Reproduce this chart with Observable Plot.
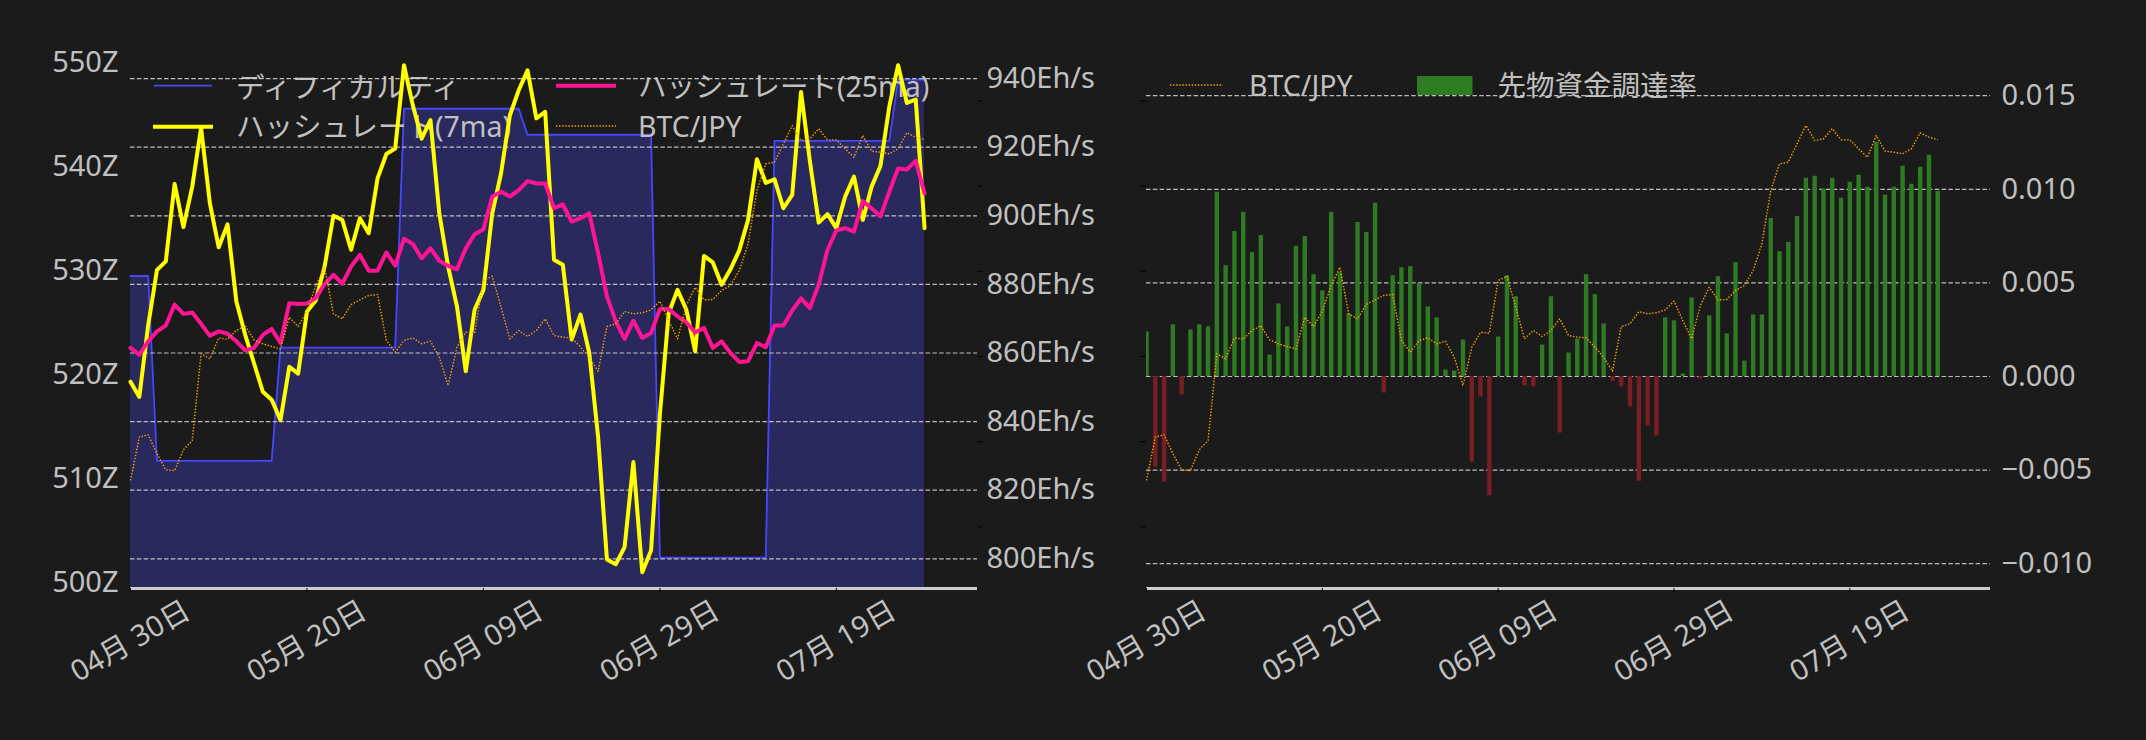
<!DOCTYPE html>
<html>
<head>
<meta charset="utf-8">
<script src="https://cdn.jsdelivr.net/npm/d3@7"></script>
<script src="https://cdn.jsdelivr.net/npm/@observablehq/plot@0.6"></script>
<style>
html, body { margin: 0; padding: 0; background: #1b1b1b; }
#root { position: relative; width: 2146px; height: 740px; overflow: hidden; background: #1b1b1b; }
.layer { position: absolute; top: 0; }
.layer svg { max-width: none; }
</style>
</head>
<body>
<div id="root"></div>
<script>
// ---------------- data ----------------
const startDate = "2025-04-30";
const endDate = "2025-08-04";
const tickDates = ["2025-04-30", "2025-05-20", "2025-06-09", "2025-06-29", "2025-07-19"];
const tickLabels = ["04月 30日", "05月 20日", "06月 09日", "06月 29日", "07月 19日"];

const difficultyTicks = [500, 510, 520, 530, 540, 550];
const hashrateTicks = [800, 820, 840, 860, 880, 900, 920, 940];
const fundingTicks = [-0.010, -0.005, 0.000, 0.005, 0.010, 0.015];
const btcTicks = [13e6, 14e6, 15e6, 16e6, 17e6, 18e6];

// difficulty (Z), daily
const difficulty = [
  529.5, 529.5, 529.5,
  511.7, 511.7, 511.7, 511.7, 511.7, 511.7, 511.7, 511.7, 511.7, 511.7, 511.7, 511.7, 511.7, 511.7,
  522.6, 522.6, 522.6, 522.6, 522.6, 522.6, 522.6, 522.6, 522.6, 522.6, 522.6, 522.6, 522.6, 522.6,
  545.6, 545.6, 545.6, 545.6, 545.6, 545.6, 545.6, 545.6, 545.6, 545.6, 545.6, 545.6, 545.6, 545.6,
  543.1, 543.1, 543.1, 543.1, 543.1, 543.1, 543.1, 543.1, 543.1, 543.1, 543.1, 543.1, 543.1, 543.1, 543.1,
  502.4, 502.4, 502.4, 502.4, 502.4, 502.4, 502.4, 502.4, 502.4, 502.4, 502.4, 502.4, 502.4,
  542.5, 542.5, 542.5, 542.5, 542.5, 542.5, 542.5, 542.5, 542.5, 542.5, 542.5, 542.5, 542.5, 542.5,
  548.4, 548.4, 548.4, 548.4
];

// hashrate 7-day MA (Eh/s)
const hashrate7ma = [
  851.6, 847.2, 868.0, 884.2, 886.7, 909.3, 896.7, 908.5, 925.7, 903.6,
  890.8, 897.5, 875.0, 865.3, 857.0, 848.7, 846.4, 840.4, 856.0, 854.0,
  872.1, 875.3, 885.2, 900.0, 898.8, 890.1, 899.3, 894.9, 910.9, 918.0,
  919.6, 943.9, 932.2, 922.5, 927.9, 900.7, 885.2, 873.6, 854.7, 872.6,
  878.4, 900.7, 912.4, 929.3, 936.6, 942.4, 928.4, 930.3, 887.2, 885.7,
  863.9, 871.2, 860.0, 835.5, 799.8, 798.4, 803.4, 828.2, 796.1, 802.4,
  842.0, 871.6, 878.4, 872.6, 860.5, 888.3, 886.4, 879.9, 884.4, 889.9,
  898.8, 916.5, 909.6, 910.6, 902.2, 906.1, 936.1, 916.0, 898.0, 900.5,
  896.4, 905.6, 911.4, 898.8, 908.5, 914.5, 931.8, 943.9, 932.9, 933.9,
  896.4
];

// hashrate 25-day MA (Eh/s)
const hashrate25ma = [
  861.5, 859.5, 863.4, 866.3, 868.0, 874.1, 871.4, 871.8, 868.5, 865.0,
  866.3, 865.6, 863.4, 860.8, 861.5, 865.3, 867.0, 862.9, 874.5, 874.3,
  874.4, 876.0, 880.1, 882.8, 880.2, 885.2, 888.6, 884.0, 884.0, 889.3,
  885.5, 893.3, 891.8, 887.6, 890.5, 886.9, 885.4, 884.4, 890.5, 894.6,
  896.1, 905.6, 907.0, 905.6, 907.5, 910.1, 909.4, 909.4, 902.2, 903.3,
  898.3, 899.3, 900.7, 889.1, 876.5, 869.2, 864.1, 869.4, 864.4, 865.8,
  872.8, 872.8, 870.7, 868.9, 866.0, 867.3, 861.5, 863.4, 860.0, 857.4,
  857.6, 862.9, 861.7, 868.0, 868.0, 872.4, 875.9, 873.1, 879.9, 890.1,
  895.7, 896.4, 895.4, 904.3, 902.2, 899.8, 907.0, 913.8, 913.5, 916.0,
  906.5
];

// BTC/JPY (yen)
const btcJpy = [
  13545000, 14053000, 14081000, 13858000, 13670000, 13662000, 13905000, 14014000, 15032000, 14973000,
  15219000, 15203000, 15305000, 15360000, 15196000, 15149000, 15117000, 15090000, 15461000, 15352000,
  15532000, 15833000, 16048000, 15501000, 15442000, 15610000, 15665000, 15716000, 15728000, 15188000,
  15050000, 15188000, 15219000, 15149000, 15180000, 14992000, 14660000, 15109000, 15285000, 15273000,
  15892000, 15942000, 15579000, 15208000, 15305000, 15235000, 15305000, 15442000, 15246000, 15227000,
  15219000, 15109000, 14992000, 14827000, 15352000, 15384000, 15528000, 15501000, 15513000, 15548000,
  15649000, 15423000, 15208000, 15599000, 15813000, 15665000, 15669000, 15775000, 15833000, 16009000,
  16323000, 16948000, 17262000, 17280000, 17496000, 17711000, 17535000, 17555000, 17673000, 17543000,
  17543000, 17438000, 17339000, 17594000, 17410000, 17398000, 17379000, 17438000, 17626000, 17574000,
  17547000
];

// futures funding rate
const fundingRate = [
  0.00238, -0.00485, -0.00565, 0.00276, -0.00098, 0.00249, 0.00276, 0.00265, 0.00984, 0.00592,
  0.00775, 0.00877, 0.00662, 0.00753, 0.00114, 0.00388, 0.00265, 0.00694, 0.00748, 0.00544,
  0.00458, 0.00877, 0.00555, 0.00335, 0.00823, 0.00769, 0.00925, -0.00088, 0.00538, 0.00581,
  0.00587, 0.00496, 0.00372, 0.00313, 0.00034, 0.00029, 0.00195, -0.00458, -0.00109, -0.00637,
  0.00211, 0.00538, 0.00426, -0.00050, -0.00055, 0.00168, 0.00426, -0.00302, 0.00125, 0.00200,
  0.00544, 0.00437, 0.00281, -0.00025, -0.00055, -0.00163, -0.00560, -0.00265, -0.00318, 0.00313,
  0.00297, 0.00013, 0.00420, -0.00013, 0.00324, 0.00533, 0.00227, 0.00608, 0.00082, 0.00329,
  0.00329, 0.00844, 0.00667, 0.00716, 0.00855, 0.01059, 0.01070, 0.01000, 0.01059, 0.00952,
  0.01038, 0.01075, 0.01011, 0.01252, 0.00968, 0.01011, 0.01123, 0.01027, 0.01118, 0.01182,
  0.00988
];

// ---------------- build ----------------
const start = new Date(startDate);
const rows = difficulty.map((d, i) => ({
  date: d3.utcDay.offset(start, i),
  difficulty: d,
  h7: hashrate7ma[i],
  h25: hashrate25ma[i],
  btc: btcJpy[i],
  funding: fundingRate[i]
}));
const ticks = tickDates.map((d, i) => ({date: new Date(d), label: tickLabels[i]}));
const xDomain = [start, new Date(endDate)];

const FONT = "'Noto Sans', 'Noto Sans CJK JP', sans-serif";
const TXT = "#c0c0c0";
const GRID = "#cfcfcf";
const FS = 29;      // tick labels
const LFS = 28.5;   // legend labels
const H = 740, MT = 40, MB = 152;
const DOT = "1.4,1.7";

const diffDomain = [499.42, 552.17];
const hashDomain = [791.34, 951.1];
const btcDomain = [12277000, 18709000];
const fundDomain = [-0.011325, 0.017949];

const style = {background: "transparent", fontFamily: FONT, fontSize: FS + "px", color: TXT, overflow: "visible", maxWidth: "none"};

const root = document.getElementById("root");
function addLayer(node, left, width) {
  const div = document.createElement("div");
  div.className = "layer";
  div.style.left = left + "px";
  div.style.width = width + "px";
  div.style.height = H + "px";
  div.appendChild(node);
  root.appendChild(div);
}

const L = {width: 1100, height: H, marginLeft: 130, marginRight: 123, marginTop: MT, marginBottom: MB, style};
const R = {width: 1046, height: H, marginLeft: 46, marginRight: 156, marginTop: MT, marginBottom: MB, style};

function xLabels() {
  return [
    Plot.axisX({ticks: ticks.map(t => t.date), tickSize: 5, stroke: "#000", tickFormat: () => "", label: null}),
    Plot.text(ticks, {x: "date", text: "label", frameAnchor: "bottom", dy: 53, rotate: -30,
      textAnchor: "middle", lineAnchor: "middle", fontSize: FS, fill: TXT})
  ];
}

// ---- left panel: layer A (difficulty) ----
addLayer(Plot.plot({
  ...L,
  x: {type: "utc", domain: xDomain, label: null},
  y: {domain: diffDomain, label: null},
  marks: [
    Plot.areaY(rows, {x: "date", y1: diffDomain[0], y2: "difficulty", fill: "#2a295e"}),
    Plot.lineY(rows, {x: "date", y: "difficulty", stroke: "#4646ff", strokeWidth: 1.8}),
    Plot.axisY(difficultyTicks, {anchor: "left", label: null, tickSize: 0, tickPadding: 12, tickFormat: d => d + "Z", fontSize: FS, fill: TXT}),
    Plot.ruleY([diffDomain[0]], {stroke: "#cccccc", strokeWidth: 3}),
    ...xLabels()
  ]
}), 0, 1100);

// ---- legends (plain SVG overlays) ----
function legendSvg(items, left, width) {
  const ns = "http://www.w3.org/2000/svg";
  const svg = document.createElementNS(ns, "svg");
  svg.setAttribute("width", width);
  svg.setAttribute("height", H);
  svg.style.fontFamily = FONT;
  let html = "";
  for (const it of items) {
    if (it.kind === "line") {
      html += `<line x1="${it.x1}" x2="${it.x2}" y1="${it.y}" y2="${it.y}" stroke="${it.color}" stroke-width="${it.w}" ${it.dash ? `stroke-dasharray="${it.dash}"` : ""}/>`;
    } else {
      html += `<rect x="${it.x1}" width="${it.x2 - it.x1}" y="${it.y - 9.5}" height="19" fill="${it.color}"/>`;
    }
    html += `<text x="${it.tx}" y="${it.ty}" dy="0.36em" font-size="${LFS}" fill="${TXT}">${it.text}</text>`;
  }
  svg.innerHTML = html;
  addLayer(svg, left, width);
}
legendSvg([
  {kind: "line", x1: 154, x2: 212, y: 85.7, color: "#4646ff", w: 1.8, tx: 236, ty: 87.5, text: "ディフィカルティ"},
  {kind: "line", x1: 153, x2: 213, y: 126.7, color: "#ffff00", w: 4, tx: 236, ty: 126.7, text: "ハッシュレート(7ma)"},
  {kind: "line", x1: 556, x2: 616, y: 85.7, color: "#ff1493", w: 4, tx: 638, ty: 87, text: "ハッシュレート(25ma)"},
  {kind: "line", x1: 556, x2: 616, y: 126, color: "#ffa500", w: 1.4, dash: DOT, tx: 638, ty: 126.7, text: "BTC/JPY"}
], 0, 1100);

// ---- left panel: layer B (hashrate) ----
addLayer(Plot.plot({
  ...L,
  x: {type: "utc", domain: xDomain, axis: null},
  y: {domain: hashDomain, label: null},
  marks: [
    Plot.gridY(hashrateTicks, {stroke: GRID, strokeOpacity: 0.9, strokeWidth: 1.2, strokeDasharray: "4.5,2.3"}),
    Plot.lineY(rows, {x: "date", y: "h7", stroke: "#ffff00", strokeWidth: 4}),
    Plot.lineY(rows, {x: "date", y: "h25", stroke: "#ff1493", strokeWidth: 4}),
    Plot.axisY(hashrateTicks, {anchor: "right", label: null, tickSize: 0, tickPadding: 9, tickFormat: d => d + "Eh/s", fontSize: FS, fill: TXT})
  ]
}), 0, 1100);

// ---- left panel: layer C (BTC/JPY) ----
addLayer(Plot.plot({
  ...L,
  x: {type: "utc", domain: xDomain, axis: null},
  y: {domain: btcDomain, label: null},
  marks: [
    Plot.lineY(rows, {x: "date", y: "btc", stroke: "#ffa500", strokeWidth: 1.4, strokeDasharray: DOT, strokeLinecap: "butt"}),
    Plot.axisY(btcTicks, {anchor: "right", label: null, tickSize: 5, stroke: "#000", tickFormat: () => ""})
  ]
}), 0, 1100);

// ---- right panel: layer D (funding rate) ----
addLayer(Plot.plot({
  ...R,
  x: {type: "utc", domain: xDomain, label: null},
  y: {domain: fundDomain, label: null},
  marks: [
    Plot.gridY(fundingTicks, {stroke: GRID, strokeOpacity: 0.9, strokeWidth: 1.2, strokeDasharray: "4.5,2.3"}),
    Plot.ruleX(rows.filter(d => d.funding >= 0), {x: "date", y1: 0, y2: "funding", stroke: "#2e7b23", strokeWidth: 4.4, clip: true}),
    Plot.ruleX(rows.filter(d => d.funding < 0), {x: "date", y1: 0, y2: "funding", stroke: "#7a1d25", strokeWidth: 4.4, clip: true}),
    Plot.axisY(fundingTicks, {anchor: "right", label: null, tickSize: 0, tickPadding: 11, tickFormat: d3.format(".3f"), fontSize: FS, fill: TXT}),
    Plot.ruleY([fundDomain[0]], {stroke: "#cccccc", strokeWidth: 3}),
    ...xLabels()
  ]
}), 1100, 1046);

// ---- right legend ----
legendSvg([
  {kind: "line", x1: 70, x2: 123, y: 85, color: "#ffa500", w: 1.4, dash: DOT, tx: 149, ty: 85.7, text: "BTC/JPY"},
  {kind: "rect", x1: 317, x2: 372.5, y: 85.5, color: "#2e7b23", tx: 397.5, ty: 85.5, text: "先物資金調達率"}
], 1100, 1046);

// ---- right panel: layer E (BTC/JPY) ----
addLayer(Plot.plot({
  ...R,
  x: {type: "utc", domain: xDomain, axis: null},
  y: {domain: btcDomain, label: null},
  marks: [
    Plot.lineY(rows, {x: "date", y: "btc", stroke: "#ffa500", strokeWidth: 1.4, strokeDasharray: DOT, strokeLinecap: "butt"}),
    Plot.axisY(btcTicks, {anchor: "left", label: null, tickSize: 6, stroke: "#000", tickFormat: () => ""})
  ]
}), 1100, 1046);
</script>
</body>
</html>
